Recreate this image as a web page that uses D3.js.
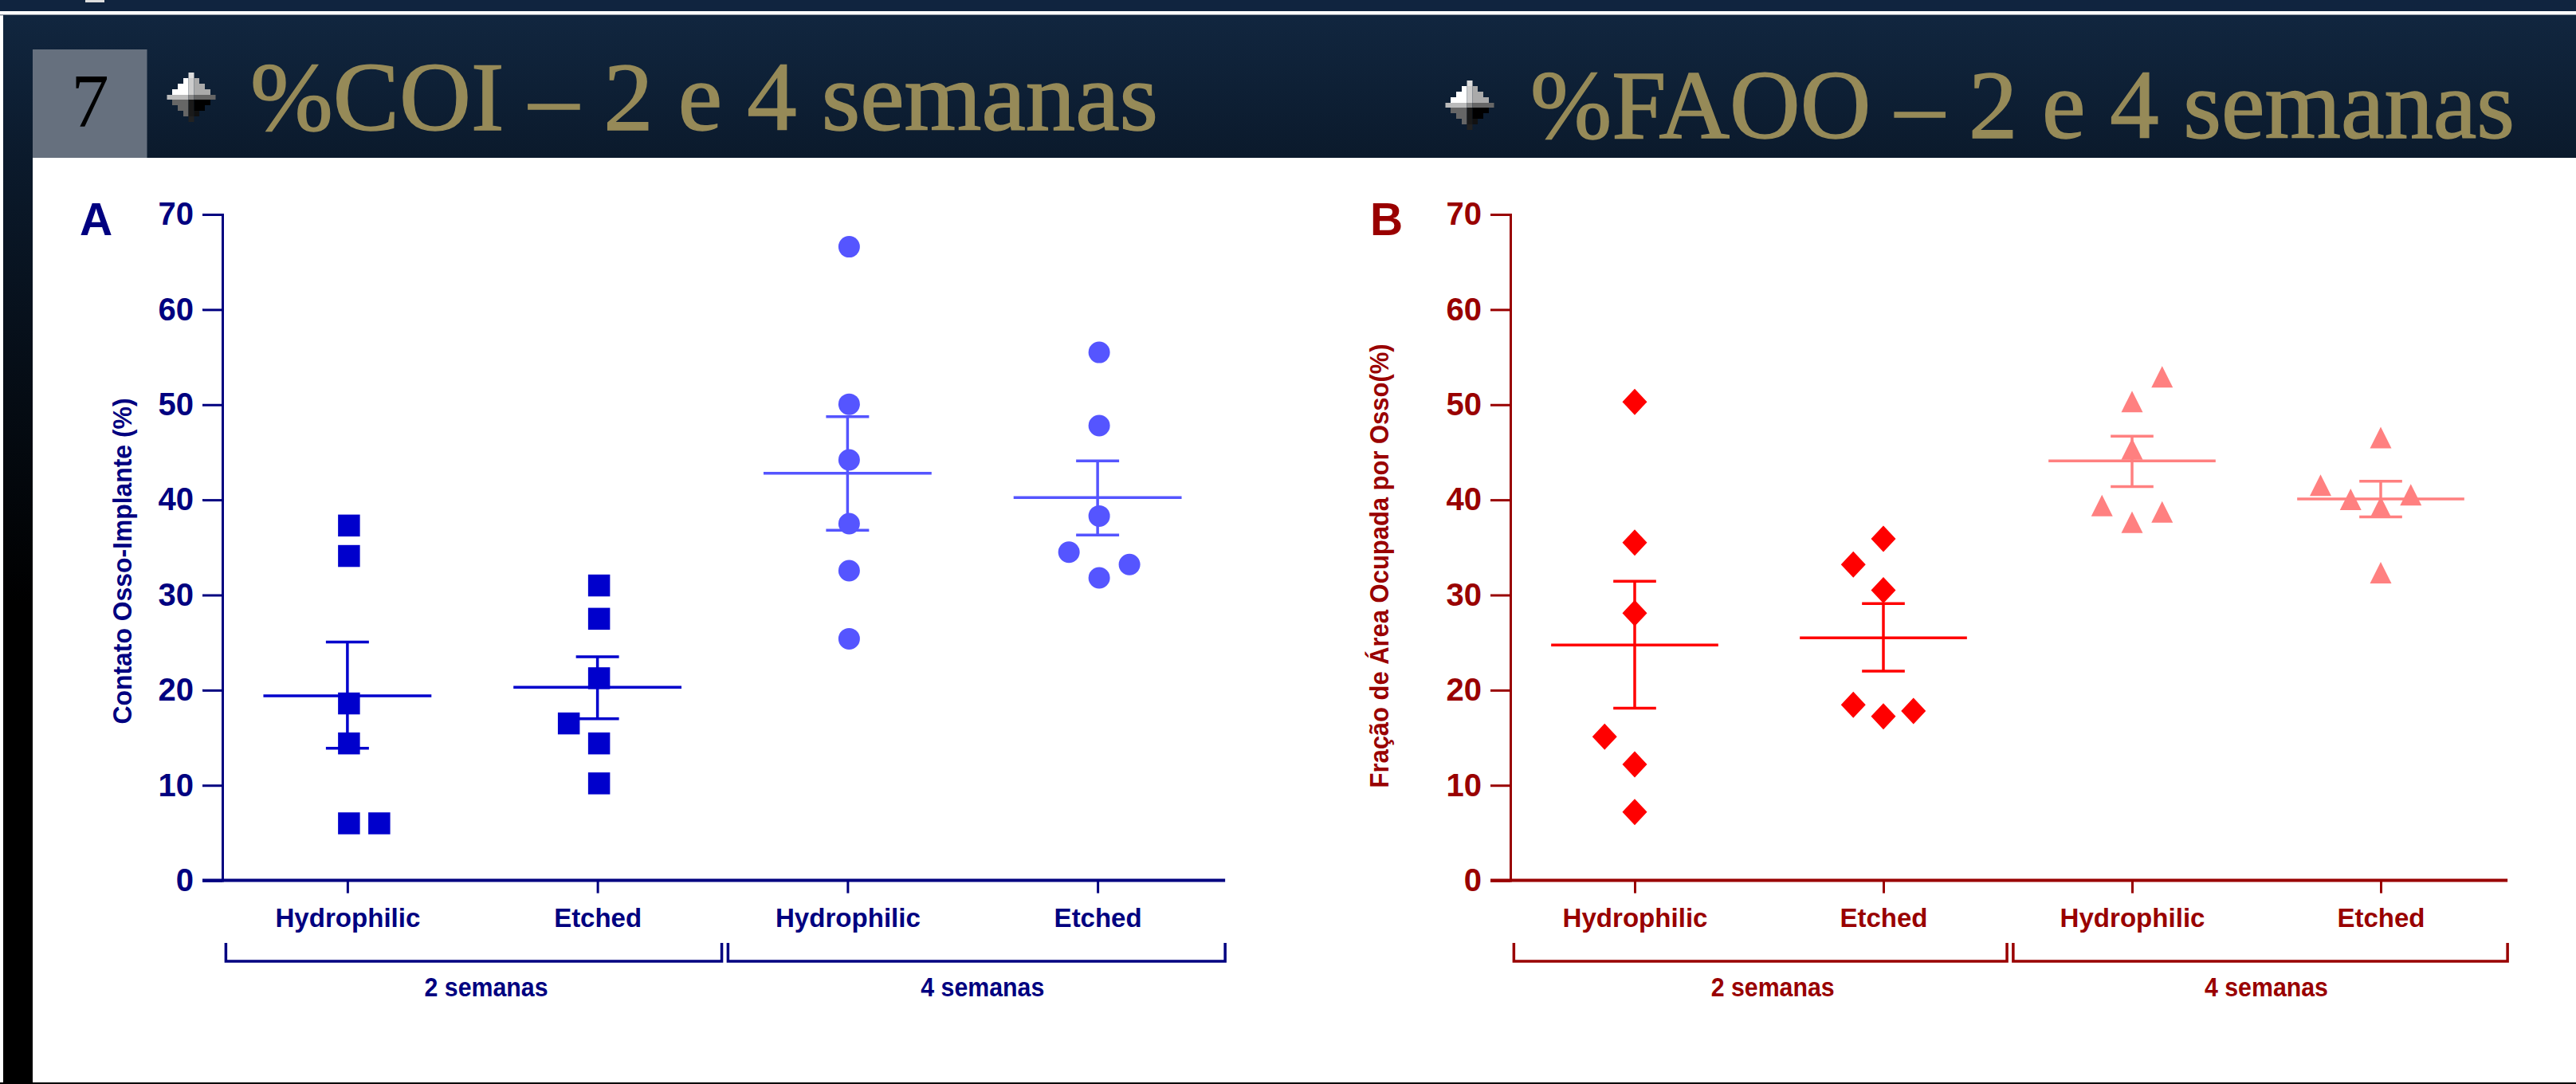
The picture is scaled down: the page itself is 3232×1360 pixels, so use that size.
<!DOCTYPE html>
<html>
<head>
<meta charset="utf-8">
<script src="https://cdn.jsdelivr.net/npm/d3@7"></script>
<style>
  html, body { margin: 0; padding: 0; background: #fff; }
  svg { display: block; }
  text { font-family: "Liberation Sans", Arial, sans-serif; font-weight: bold; }
</style>
</head>
<body>
<svg id="chart"></svg>
<script>
/* DATA */
const yTicks = [0, 10, 20, 30, 40, 50, 60, 70];
const categories = ["Hydrophilic", "Etched", "Hydrophilic", "Etched"];
const groupNames = ["2 semanas", "4 semanas"];

// panel A, contato osso-implante
const coiHydro2 = [37.3, 34.1, 18.6, 14.4, 6.0, 6.0];
const coiEtched2 = [31.0, 27.5, 21.25, 16.5, 14.4, 10.2];
const coiHydro4 = [66.6, 50.05, 44.2, 37.5, 32.55, 25.4];
const coiEtched4 = [55.5, 47.8, 38.3, 34.5, 33.2, 31.8];
const coiSlots = [[0, 0, 0, 0, 0, 1], [0, 0, 0, -1, 0, 0], [0, 0, 0, 0, 0, 0], [0, 0, 0, -1, 1, 0]];
const coiMeans = [19.4, 20.3, 42.8, 40.25];
const coiLower = [13.9, 17.0, 36.8, 36.3];
const coiUpper = [25.05, 23.5, 48.75, 44.1];

// panel B, fracao de area ocupada por osso
const faooHydro2 = [50.3, 35.5, 28.1, 15.1, 12.2, 7.2];
const faooEtched2 = [35.9, 33.2, 30.5, 18.45, 17.25, 17.8];
const faooHydro4 = [52.9, 50.3, 45.3, 39.35, 37.6, 38.7];
const faooEtched4 = [46.5, 41.5, 40.0, 40.5, 39.2, 32.3];
const faooSlots = [[0, 0, 0, -1, 0, 0], [0, -1, 0, -1, 0, 1], [1, 0, 0, -1, 0, 1], [0, -2, -1, 1, 0, 0]];
const faooMeans = [24.75, 25.5, 44.1, 40.1];
const faooLower = [18.1, 22.0, 41.4, 38.2];
const faooUpper = [31.45, 29.1, 46.7, 41.95];

/* CONSTANTS */
const width = 3232, height = 1360;
const axisY = 1104.6, topY = 269;
const gold = "#968a58";
const slotW = 0.121, meanHalf = 0.336, capHalf = 0.086;

const svg = d3.select("#chart").attr("width", width).attr("height", height);

// custom marker shapes, the d3 ones have the wrong proportions
const diamond = {
  draw(ctx) {
    ctx.moveTo(0, -16.5); ctx.lineTo(15.5, 0); ctx.lineTo(0, 16.5); ctx.lineTo(-15.5, 0); ctx.closePath();
  }
};
const triangle = {
  draw(ctx) {
    ctx.moveTo(0, -14); ctx.lineTo(13.5, 13); ctx.lineTo(-13.5, 13); ctx.closePath();
  }
};

/* SLIDE BACKGROUND */
const defs = svg.append("defs");
const grad = defs.append("linearGradient").attr("id", "bg")
  .attr("gradientUnits", "userSpaceOnUse")
  .attr("x1", 0).attr("x2", 0).attr("y1", 19).attr("y2", 1360);
grad.append("stop").attr("offset", 0).attr("stop-color", "#11263f");
grad.append("stop").attr("offset", 0.133).attr("stop-color", "#0b1a2c");
grad.append("stop").attr("offset", 0.55).attr("stop-color", "#000");

svg.append("rect").attr("width", width).attr("height", height).attr("fill", "#fff");
svg.append("rect").attr("width", width).attr("height", 14).attr("fill", "#10243f");
svg.append("rect").attr("x", 107).attr("width", 24).attr("height", 3).attr("fill", "#ddd");
svg.append("rect").attr("y", 18).attr("width", width).attr("height", 1.5).attr("fill", "#8d95a0");
svg.append("rect").attr("x", 4).attr("y", 19).attr("width", width - 4).attr("height", 179).attr("fill", "url(#bg)");
svg.append("rect").attr("x", 4).attr("y", 19).attr("width", 37).attr("height", 1341).attr("fill", "url(#bg)");
svg.append("rect").attr("y", 1358).attr("width", width).attr("height", 2).attr("fill", "#000");

svg.append("rect").attr("x", 41).attr("y", 62).attr("width", 143.5).attr("height", 136).attr("fill", "#66707e");
svg.append("text").attr("x", 113).attr("y", 159)
  .attr("text-anchor", "middle")
  .style("font-family", "'Liberation Serif', serif")
  .style("font-weight", "normal")
  .style("font-size", "95px").attr("fill", "#000")
  .text("7");

// little pixelated bullet in front of each heading
function bullet(cx, cy) {
  const g = svg.append("g").attr("transform", `translate(${cx},${cy})`);
  const rows = [
    [-31, 7, 3.5, "#ddd", "#ddd", "#ddd"],
    [-24, 7, 10, "#fff", "#ccc", "#aaa"],
    [-17, 7, 17, "#fff", "#ccc", "#aaa"],
    [-10, 7, 24, "#fff", "#ccc", "#aaa"],
    [-3, 6, 30.5, "#bbb", "#888", "#666"],
    [3, 7, 24, "#666", "#1a1a1a", "#000"],
    [10, 7, 17, "#666", "#1a1a1a", "#000"],
    [17, 7, 10, "#666", "#1a1a1a", "#111"],
    [24, 7, 3.5, "#222", "#222", "#222"]
  ];
  rows.forEach(([y, h, hw, l, c, r]) => {
    g.append("rect").attr("x", -hw).attr("y", y).attr("width", hw - 3.5 + 0.01).attr("height", h).attr("fill", l);
    g.append("rect").attr("x", -3.5).attr("y", y).attr("width", 7).attr("height", h).attr("fill", c);
    g.append("rect").attr("x", 3.5).attr("y", y).attr("width", hw - 3.5 + 0.01).attr("height", h).attr("fill", r);
  });
}

function heading(label, x, y, len) {
  svg.append("text")
    .attr("x", x).attr("y", y)
    .attr("textLength", len).attr("lengthAdjust", "spacingAndGlyphs")
    .style("font-family", "'Liberation Serif', serif")
    .style("font-weight", "normal")
    .style("font-size", "122px")
    .attr("fill", gold)
    .attr("stroke", gold)
    .attr("stroke-width", 1.5)
    .text(label);
}

bullet(240, 122);
heading("%COI – 2 e 4 semanas", 314, 163, 1139);
bullet(1844, 132);
heading("%FAOO – 2 e 4 semanas", 1920, 173, 1235);

/* PANELS */
function drawPanel(p) {
  const g = svg.append("g");

  const xScale = d3.scaleLinear().domain([-0.5, 3.5]).range(p.xRange);
  const yScale = d3.scaleLinear().domain([0, 70]).range([axisY, topY]);

  // y axis
  const yAxisGroup = g.append("g")
    .attr("transform", `translate(${p.xRange[0]},0)`)
    .call(d3.axisLeft(yScale).tickValues(yTicks).tickSize(25).tickPadding(11).tickFormat(d3.format("d")));

  // x axis
  const xAxisGroup = g.append("g")
    .attr("transform", `translate(0,${axisY})`)
    .call(d3.axisBottom(xScale).tickValues([0, 1, 2, 3]).tickSize(16).tickPadding(18)
      .tickFormat(i => categories[i]));

  // baseline runs from the y tick to just past the last group
  xAxisGroup.select(".domain").remove();
  g.append("line")
    .attr("x1", p.xRange[0] - 25).attr("x2", xScale(3.51))
    .attr("y1", axisY).attr("y2", axisY)
    .attr("stroke", p.axisColor).attr("stroke-width", 4);

  [yAxisGroup, xAxisGroup].forEach(a => {
    a.selectAll("line").attr("stroke", p.axisColor).attr("stroke-width", 3);
    a.selectAll(".domain").attr("stroke", p.axisColor).attr("stroke-width", 3);
    a.selectAll("text").attr("fill", p.axisColor);
  });
  yAxisGroup.selectAll("text").style("font-size", "40px");
  xAxisGroup.selectAll("text").style("font-size", "34px")
    .attr("textLength", i => categories[i] === "Etched" ? 110 : 182)
    .attr("lengthAdjust", "spacingAndGlyphs");

  // panel letter and y title
  g.append("text").attr("x", p.letterX).attr("y", 295)
    .attr("fill", p.axisColor).style("font-size", "57px").text(p.letter);

  g.append("text")
    .attr("transform", `translate(${p.titleX},${p.titleY}) rotate(-90)`)
    .attr("text-anchor", "middle")
    .attr("textLength", p.titleLen).attr("lengthAdjust", "spacingAndGlyphs")
    .attr("fill", p.axisColor).style("font-size", "34px")
    .text(p.title);

  // group brackets
  [[-0.486, 1.497], [1.522, 3.51]].forEach((b, i) => {
    g.append("path")
      .attr("d", `M${xScale(b[0])},1183V1206H${xScale(b[1])}V1183`)
      .attr("fill", "none").attr("stroke", p.axisColor).attr("stroke-width", 3.5);
    g.append("text")
      .attr("x", xScale([0.555, 2.54][i])).attr("y", 1250)
      .attr("text-anchor", "middle")
      .attr("textLength", 155).attr("lengthAdjust", "spacingAndGlyphs")
      .attr("fill", p.axisColor).style("font-size", "34px")
      .text(groupNames[i]);
  });

  // points, mean and error bars per category
  p.series.forEach((values, i) => {
    const color = i < 2 ? p.colorEarly : p.colorLate;
    const sym = d3.symbol().type(i < 2 ? p.symbolEarly : p.symbolLate).size(p.size[i < 2 ? 0 : 1]);

    const lineGen = d3.line().x(d => xScale(d[0])).y(d => yScale(d[1]));
    const lines = [
      [[i - meanHalf, p.means[i]], [i + meanHalf, p.means[i]]],
      [[i, p.lower[i]], [i, p.upper[i]]],
      [[i - capHalf, p.lower[i]], [i + capHalf, p.lower[i]]],
      [[i - capHalf, p.upper[i]], [i + capHalf, p.upper[i]]]
    ];
    g.append("g").selectAll("path")
      .data(lines)
      .join("path")
      .attr("d", lineGen)
      .attr("fill", "none")
      .attr("stroke", color)
      .attr("stroke-width", 3.5);

    g.append("g").selectAll("path")
      .data(values)
      .join("path")
      .attr("d", sym)
      .attr("fill", color)
      .attr("transform", (d, j) => `translate(${xScale(i + p.slots[i][j] * slotW) + p.nudge},${yScale(d)})`);
  });
}

drawPanel({
  letter: "A", letterX: 100,
  title: "Contato Osso-Implante (%)", titleX: 165, titleY: 704, titleLen: 409,
  xRange: [279, 1534],
  axisColor: "#000080", colorEarly: "#0000cc", colorLate: "#5555ff",
  symbolEarly: d3.symbolSquare, symbolLate: d3.symbolCircle, size: [756, 572], nudge: 2,
  series: [coiHydro2, coiEtched2, coiHydro4, coiEtched4],
  slots: coiSlots, means: coiMeans, lower: coiLower, upper: coiUpper
});

drawPanel({
  letter: "B", letterX: 1719,
  title: "Fração de Área Ocupada por Osso(%)", titleX: 1742, titleY: 710, titleLen: 557,
  xRange: [1895, 3143],
  axisColor: "#990000", colorEarly: "#ff0000", colorLate: "#ff8080",
  symbolEarly: diamond, symbolLate: triangle, size: [64, 64], nudge: 0,
  series: [faooHydro2, faooEtched2, faooHydro4, faooEtched4],
  slots: faooSlots, means: faooMeans, lower: faooLower, upper: faooUpper
});
</script>
</body>
</html>
